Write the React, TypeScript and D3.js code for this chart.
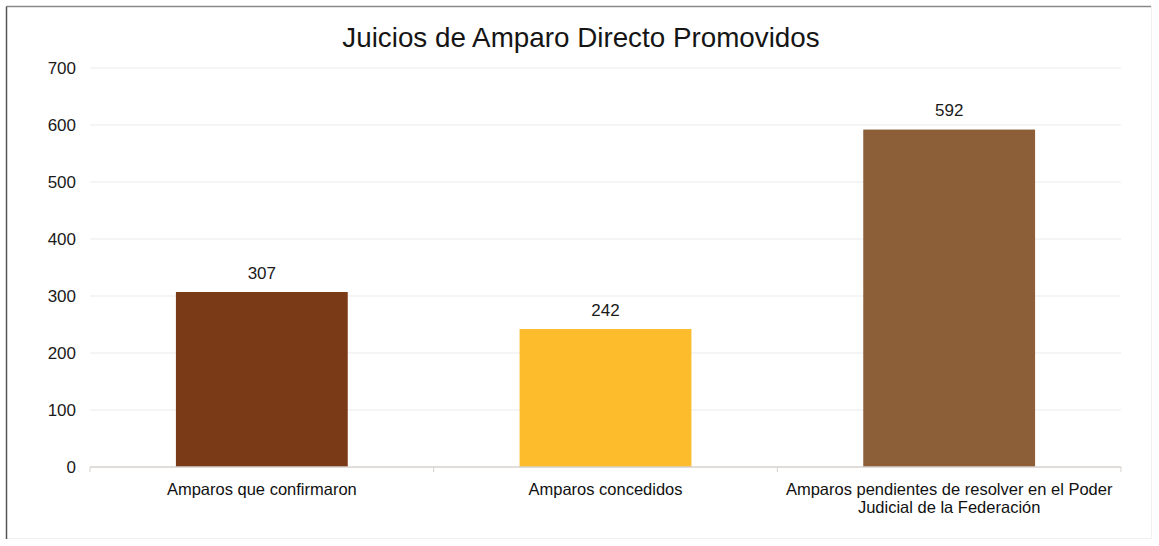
import React from "react";
import * as d3 from "d3";

const categories: string[][] = [
  ["Amparos que confirmaron"],
  ["Amparos concedidos"],
  ["Amparos pendientes de resolver en el Poder", "Judicial de la Federación"],
];
const values: number[] = [307, 242, 592];
const colors: string[] = ["#7B3A17", "#FCBC2B", "#8D5F38"];
const yTicks: number[] = [0, 100, 200, 300, 400, 500, 600, 700];
const title = "Juicios de Amparo Directo Promovidos";

const W = 1159;
const H = 546;
const left = 90;
const right = 1121;
const top = 68;
const bottom = 467;

export default function App() {
  const x = d3
    .scaleBand<number>()
    .domain(values.map((_, i) => i))
    .range([left, right])
    .paddingInner(0.5)
    .paddingOuter(0.25);
  const y = d3.scaleLinear().domain([0, 700]).range([bottom, top]);
  const step = x.step();
  const font = "Liberation Sans, Arial, sans-serif";

  return (
    <svg
      width={W}
      height={H}
      style={{ position: "absolute", left: 0, top: 0, background: "#fff" }}
      fontFamily={font}
    >
      <rect x={6.5} y={6.5} width={1145} height={532} fill="none" stroke="#f0f0f0" />
      <line x1={6.5} x2={1151} y1={6.5} y2={6.5} stroke="#8a8a8a" strokeWidth={1.5} />
      <line x1={6.5} x2={6.5} y1={6.5} y2={539} stroke="#555" strokeWidth={1.5} />
      <text x={581} y={47} textAnchor="middle" fontSize={27.8} fill="#151515">
        {title}
      </text>
      {yTicks.map((t) => (
        <g key={t}>
          {t > 0 && (
            <line x1={left} x2={right} y1={y(t)} y2={y(t)} stroke="#ebebeb" strokeWidth={1} />
          )}
          <text x={76} y={y(t) + 5.5} textAnchor="end" fontSize={17} fill="#1a1a1a">
            {t}
          </text>
        </g>
      ))}
      {values.map((v, i) => (
        <g key={i}>
          <rect
            x={x(i)!}
            y={y(v)}
            width={x.bandwidth()}
            height={y(0) - y(v)}
            fill={colors[i]}
          />
          <text
            x={x(i)! + x.bandwidth() / 2}
            y={y(v) - 13.5}
            textAnchor="middle"
            fontSize={17}
            fill="#1a1a1a"
          >
            {v}
          </text>
          {categories[i].map((line, j) => (
            <text
              key={j}
              x={x(i)! + x.bandwidth() / 2}
              y={495 + j * 18}
              textAnchor="middle"
              fontSize={16.5}
              fill="#111"
            >
              {line}
            </text>
          ))}
        </g>
      ))}
      <line x1={left} x2={right} y1={bottom} y2={bottom} stroke="#d6d0cc" strokeWidth={1.5} />
      {[0, 1, 2, 3].map((k) => (
        <line
          key={k}
          x1={left + k * step}
          x2={left + k * step}
          y1={bottom}
          y2={bottom + 5}
          stroke="#d6d0cc"
          strokeWidth={1}
        />
      ))}
    </svg>
  );
}
